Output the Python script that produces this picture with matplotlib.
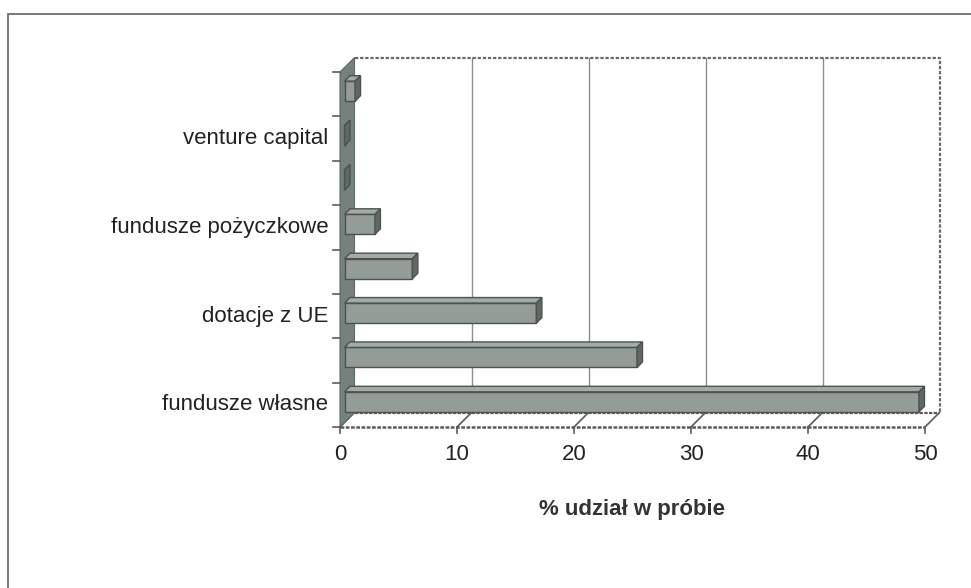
import matplotlib.pyplot as plt
from matplotlib.patches import Polygon, Rectangle

plt.rcParams['font.family'] = ['Liberation Sans', 'DejaVu Sans']

# categories top to bottom, unlabeled rows have no name shown
categories = ["", "venture capital", "", "fundusze pożyczkowe", "",
              "dotacje z UE", "", "fundusze własne"]
values = [0.9, 0.0, 0.0, 2.6, 5.8, 16.4, 25.0, 49.1]
xticks = [0, 10, 20, 30, 40, 50]
xlabel = "% udział w próbie"

fig = plt.figure(figsize=(9.71, 5.88), dpi=100)
W_PX, H_PX = 971, 588

# front plane of the 3D box
left, right, top, bottom = 340, 925, 72, 427
ax = fig.add_axes([left / W_PX, 1 - bottom / H_PX,
                   (right - left) / W_PX, (bottom - top) / H_PX])
n = len(values)
xmax = xticks[-1]
ax.set_xlim(0, xmax)
ax.set_ylim(n - 0.5, -0.5)
ax.axis('off')

px_x = (right - left) / xmax      # pixels per unit
px_y = (bottom - top) / n         # pixels per category
depth = 14.5
ddx = depth / px_x
ddy = -depth / px_y

ylo, yhi = n - 0.5, -0.5
edge_dark = '#4d524f'

# back wall gridlines
for v in xticks[1:-1]:
    ax.plot([v + ddx, v + ddx], [ylo + ddy, yhi + ddy], color='#8c8c8c',
            lw=1.0, clip_on=False, zorder=1)
# back wall top and right edge
ax.plot([ddx, xmax + ddx, xmax + ddx], [yhi + ddy, yhi + ddy, ylo + ddy],
        color='#6a6a6a', lw=1.6, ls=(0, (1.5, 0.8)), clip_on=False, zorder=1)

# floor
floor = Polygon([(0, ylo), (xmax, ylo), (xmax + ddx, ylo + ddy), (ddx, ylo + ddy)],
                closed=True, facecolor='white', edgecolor='none', clip_on=False, zorder=1)
ax.add_patch(floor)
ax.plot([0, xmax], [ylo, ylo], color='#5a5a5a', lw=1.8, ls=(0, (1.5, 0.6)),
        clip_on=False, zorder=2)
ax.plot([ddx, xmax + ddx], [ylo + ddy, ylo + ddy], color='#5a5a5a', lw=1.6,
        ls=(0, (1.5, 0.6)), clip_on=False, zorder=2)
for v in xticks:
    ax.plot([v, v + ddx], [ylo, ylo + ddy], color='#5a5a5a', lw=1.2,
            clip_on=False, zorder=2)
    ax.plot([v, v], [ylo, ylo + 6 / px_y], color='#5a5a5a', lw=1.2,
            clip_on=False, zorder=2)

# left wall
wall = Polygon([(0, ylo), (0, yhi), (ddx, yhi + ddy), (ddx, ylo + ddy)],
               closed=True, facecolor='#74817c', edgecolor='#5f6864', lw=0.8,
               clip_on=False, zorder=3)
ax.add_patch(wall)

# y ticks at category boundaries
for k in range(n + 1):
    ax.plot([-7 / px_x, 0], [k - 0.5, k - 0.5], color='#5a5a5a', lw=1.2,
            clip_on=False, zorder=3)

# bars with a small 3D look
bar_depth = 5.5
bar_off = (depth - bar_depth) / 2
bx = bar_off / px_x
by = -bar_off / px_y
bdx = bar_depth / px_x
bdy = -bar_depth / px_y
h = 20 / px_y

for i, v in enumerate(values):
    yc = i + by + 1.5 / px_y
    ax.barh(yc, v, left=bx, height=h, color='#939c97', edgecolor=edge_dark,
            lw=1.0, clip_on=False, zorder=4)
    y_top = yc - h / 2
    y_bot = yc + h / 2
    top_face = Polygon([(bx, y_top), (bx + v, y_top), (bx + v + bdx, y_top + bdy),
                        (bx + bdx, y_top + bdy)], closed=True,
                       facecolor='#a3aba6', edgecolor=edge_dark, lw=1.0,
                       clip_on=False, zorder=4)
    side_face = Polygon([(bx + v, y_bot), (bx + v, y_top), (bx + v + bdx, y_top + bdy),
                         (bx + v + bdx, y_bot + bdy)], closed=True,
                        facecolor='#5f6964', edgecolor=edge_dark, lw=1.0,
                        clip_on=False, zorder=4)
    ax.add_patch(top_face)
    ax.add_patch(side_face)

# tick labels
for v in xticks:
    ax.annotate(str(v), (v, ylo), xytext=(0, -19.5), textcoords='offset points',
                ha='center', va='center', fontsize=16, color='#222222')
for i, name in enumerate(categories):
    if name:
        ax.annotate(name, (0, i), xytext=(-8.5, 0), textcoords='offset points',
                    ha='right', va='center', fontsize=16, color='#222222')

fig.text(632 / W_PX, 1 - 509 / H_PX, xlabel, ha='center', va='center',
         fontsize=16, fontweight='bold', color='#333333')

# outer chart frame
frame = Rectangle((8 / W_PX, -0.05), 1.1, 1.05 - 14 / H_PX, transform=fig.transFigure,
                  fill=False, edgecolor='#6e6e6e', lw=1.3)
fig.patches.append(frame)

fig.savefig('out.png', dpi=100)
